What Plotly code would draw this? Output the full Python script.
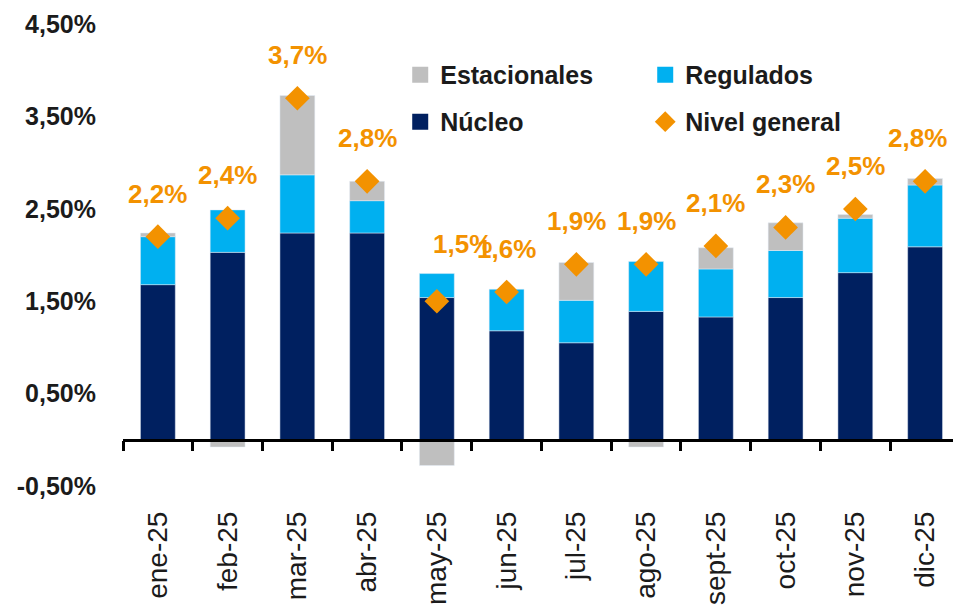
import plotly.graph_objects as go

categories = ["ene-25", "feb-25", "mar-25", "abr-25", "may-25", "jun-25",
              "jul-25", "ago-25", "sept-25", "oct-25", "nov-25", "dic-25"]
nucleo = [1.68, 2.03, 2.24, 2.24, 1.54, 1.18, 1.05, 1.39, 1.33, 1.54, 1.81, 2.09]
regulados = [0.52, 0.46, 0.63, 0.35, 0.26, 0.45, 0.46, 0.54, 0.52, 0.51, 0.59, 0.67]
estacionales = [0.04, -0.08, 0.86, 0.21, -0.28, -0.02, 0.41, -0.08, 0.23, 0.30, 0.04, 0.07]
nivel_general = [2.2, 2.4, 3.7, 2.8, 1.5, 1.6, 1.9, 1.9, 2.1, 2.3, 2.5, 2.8]
y_ticks = [-0.5, 0.5, 1.5, 2.5, 3.5, 4.5]

C_NUC = "#002060"
C_REG = "#00B0F0"
C_EST = "#BFBFBF"
C_GEN = "#F39200"
TXT = "#1B1B1B"
FONT = "Liberation Sans"

Y_MIN, Y_MAX = -0.6, 4.7

fig = go.Figure()
bar_series = [("Núcleo", nucleo, C_NUC, "legend2"),
              ("Regulados", regulados, C_REG, "legend"),
              ("Estacionales", estacionales, C_EST, "legend")]
for name, vals, col, leg in bar_series:
    fig.add_trace(go.Bar(x=categories, y=vals, name=name, marker_color=col,
                         legendgroup=name, showlegend=False))
# legend entries with larger square swatches (linked to the bar series)
for name, vals, col, leg in bar_series:
    fig.add_trace(go.Scatter(x=[None], y=[None], mode="markers", name=name,
                             legendgroup=name, legend=leg,
                             marker=dict(symbol="square", size=16, color=col)))
fig.add_trace(go.Scatter(x=categories, y=nivel_general, name="Nivel general", mode="markers",
                         marker=dict(symbol="diamond", size=19, color=C_GEN),
                         legend="legend2"))

def fmt(v, d):
    return f"{v:.{d}f}".replace(".", ",") + "%"

label_shift = {"may-25": (26, 57), "dic-25": (-8, 43)}
for c, v in zip(categories, nivel_general):
    xs, ys = label_shift.get(c, (0, 43))
    fig.add_annotation(x=c, y=v, text=fmt(v, 1), showarrow=False, xshift=xs, yshift=ys,
                       font=dict(family=FONT, size=26, color=C_GEN, weight="bold"))

legend_common = dict(orientation="h", bgcolor="rgba(0,0,0,0)", xanchor="left", yanchor="middle",
                     font=dict(family=FONT, size=25, color=TXT, weight="bold"),
                     entrywidth=200, entrywidthmode="pixels", traceorder="reversed")

fig.update_layout(
    width=953, height=606,
    margin=dict(l=123, r=0, t=6, b=111, autoexpand=False),
    paper_bgcolor="white", plot_bgcolor="white",
    barmode="relative", bargap=0.5,
    showlegend=True,
    legend=dict(x=0.334, y=0.859, **legend_common),
    legend2=dict(x=0.334, y=0.763, **{**legend_common, "traceorder": "normal"}),
    xaxis=dict(type="category", range=[-0.5, 11.4], anchor="free", automargin=False,
               position=(0 - Y_MIN) / (Y_MAX - Y_MIN),
               showline=True, linecolor="black", linewidth=2.5,
               ticks="outside", tickson="boundaries", ticklen=10, tickwidth=2.5, tickcolor="black",
               tickangle=-90, ticklabelstandoff=59, showgrid=False,
               tickfont=dict(family=FONT, size=28, color=TXT)),
    yaxis=dict(range=[Y_MIN, Y_MAX], showgrid=False, zeroline=False, showline=False,
               automargin=False,
               tickvals=y_ticks, ticktext=[fmt(v, 2) for v in y_ticks],
               ticks="", ticklabelstandoff=26,
               tickfont=dict(family=FONT, size=25, color=TXT, weight="bold")),
)

fig.write_html("out.html", config={"displayModeBar": False},
               post_script="document.body.style.margin='0';document.body.style.overflow='hidden';")
